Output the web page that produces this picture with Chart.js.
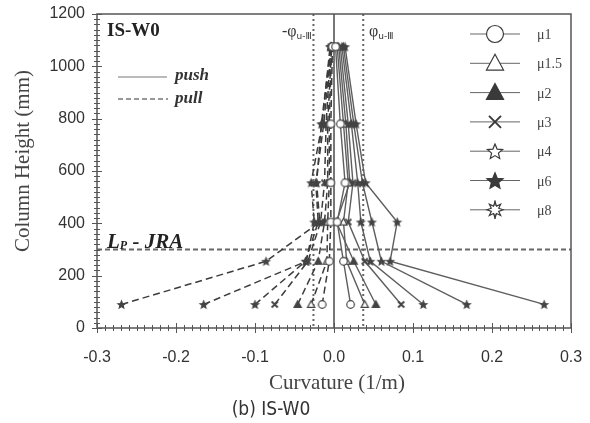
<!DOCTYPE html>
<html>
<head>
<meta charset="utf-8">
<script src="https://cdn.jsdelivr.net/npm/chart.js@4.4.1/dist/chart.umd.min.js"></script>
<style>
  html, body { margin: 0; padding: 0; background: #fff; }
  #wrap { position: relative; width: 590px; height: 423px; }
</style>
</head>
<body>
<div id="wrap"><canvas id="c" width="590" height="423"></canvas></div>
<script>
// measured section heights (mm)
var HEIGHTS = [90, 255, 405, 555, 780, 1075];
var LABELS  = ['μ1', 'μ1.5', 'μ2', 'μ3', 'μ4', 'μ6', 'μ8'];
var MARKERS = ['circle', 'triOpen', 'triFilled', 'cross', 'starOpen', 'starFilled', 'burst'];

// curvature (1/m), push side
var pushMu1  = [0.021, 0.012, 0.004, 0.014, 0.008, 0.002];
var pushMu15 = [0.039, 0.016, 0.012, 0.018, 0.012, 0.004];
var pushMu2  = [0.053, 0.025, 0.003, 0.020, 0.015, 0.006];
var pushMu3  = [0.085, 0.039, 0.018, 0.024, 0.018, 0.008];
var pushMu4  = [0.113, 0.046, 0.034, 0.030, 0.022, 0.010];
var pushMu6  = [0.168, 0.060, 0.048, 0.036, 0.025, 0.012];
var pushMu8  = [0.266, 0.071, 0.080, 0.040, 0.028, 0.014];

// curvature (1/m), pull side
var pullMu1  = [-0.015, -0.006, -0.004, -0.004, -0.004, -0.002];
var pullMu15 = [-0.029, -0.009, -0.008, -0.006, -0.006, -0.003];
var pullMu2  = [-0.046, -0.020, -0.012, -0.008, -0.008, -0.003];
var pullMu3  = [-0.075, -0.033, -0.017, -0.012, -0.010, -0.004];
var pullMu4  = [-0.100, -0.036, -0.020, -0.023, -0.013, -0.004];
var pullMu6  = [-0.165, -0.035, -0.025, -0.029, -0.015, -0.005];
var pullMu8  = [-0.269, -0.086, -0.018, -0.022, -0.016, -0.004];

var PUSH = [pushMu1, pushMu15, pushMu2, pushMu3, pushMu4, pushMu6, pushMu8];
var PULL = [pullMu1, pullMu15, pullMu2, pullMu3, pullMu4, pullMu6, pullMu8];

// reference lines
var PHI_NEG = -0.026;
var PHI_POS = 0.037;
var LP_JRA = 300;

var X_TICKS = [-0.3, -0.2, -0.1, 0.0, 0.1, 0.2, 0.3];
var Y_TICKS = [0, 200, 400, 600, 800, 1000, 1200];

var INK = '#333';

function starPath(ctx, x, y, n, ro, ri) {
  ctx.beginPath();
  for (var i = 0; i < n * 2; i++) {
    var a = -Math.PI / 2 + i * Math.PI / n;
    var rr = i % 2 ? ri : ro;
    var px = x + rr * Math.cos(a), py = y + rr * Math.sin(a);
    if (i) ctx.lineTo(px, py); else ctx.moveTo(px, py);
  }
  ctx.closePath();
}

function drawMarker(ctx, kind, x, y, r, color, lw) {
  ctx.save();
  ctx.strokeStyle = color;
  ctx.fillStyle = color;
  ctx.lineWidth = lw;
  ctx.setLineDash([]);
  if (kind === 'circle') {
    ctx.beginPath(); ctx.arc(x, y, r, 0, Math.PI * 2);
    ctx.fillStyle = '#fff'; ctx.fill(); ctx.stroke();
  } else if (kind === 'triOpen' || kind === 'triFilled') {
    ctx.beginPath();
    ctx.moveTo(x, y - r);
    ctx.lineTo(x + r * 0.95, y + r * 0.75);
    ctx.lineTo(x - r * 0.95, y + r * 0.75);
    ctx.closePath();
    if (kind === 'triOpen') ctx.fillStyle = '#fff';
    ctx.fill(); ctx.stroke();
  } else if (kind === 'cross') {
    ctx.lineWidth = lw * 1.6;
    ctx.beginPath();
    ctx.moveTo(x - r * 0.8, y - r * 0.8); ctx.lineTo(x + r * 0.8, y + r * 0.8);
    ctx.moveTo(x + r * 0.8, y - r * 0.8); ctx.lineTo(x - r * 0.8, y + r * 0.8);
    ctx.stroke();
  } else if (kind === 'starOpen' || kind === 'starFilled') {
    starPath(ctx, x, y + r * 0.1, 5, r, r * 0.45);
    if (kind === 'starOpen') ctx.fillStyle = '#fff';
    ctx.fill(); ctx.stroke();
  } else if (kind === 'burst') {
    starPath(ctx, x, y, 8, r, r * 0.5);
    ctx.fillStyle = '#fff'; ctx.fill(); ctx.stroke();
    ctx.beginPath();
    ctx.moveTo(x, y - r * 1.15); ctx.lineTo(x, y - r * 0.5);
    ctx.moveTo(x, y + r * 1.15); ctx.lineTo(x, y + r * 0.5);
    ctx.stroke();
  }
  ctx.restore();
}

function markerCanvas(kind, r, color) {
  var s = Math.ceil(2 * r + 5);
  var c = document.createElement('canvas');
  c.width = s; c.height = s;
  // small plot markers for μ4 / μ8 read as solid blobs in the scan
  kind = { starOpen: 'starFilled', burst: 'starFilled' }[kind] || kind;
  drawMarker(c.getContext('2d'), kind, s / 2, s / 2, r, color, 1.2);
  return c;
}

function series(vals) {
  return HEIGHTS.map(function (h, k) { return { x: vals[k], y: h }; });
}

var datasets = [];
for (var i = 0; i < LABELS.length; i++) {
  datasets.push({
    label: LABELS[i] + ' push',
    data: series(PUSH[i]),
    showLine: true,
    borderColor: '#5e5e5e',
    borderWidth: 1.4,
    pointStyle: markerCanvas(MARKERS[i], 3.8, '#444'),
    pointRadius: 4,
    fill: false
  });
  datasets.push({
    label: LABELS[i] + ' pull',
    data: series(PULL[i]),
    showLine: true,
    borderColor: '#3c3c3c',
    borderWidth: 1.5,
    borderDash: [7, 4],
    pointStyle: markerCanvas(MARKERS[i], 3.8, '#444'),
    pointRadius: 4,
    fill: false
  });
}

function text(ctx, s, x, y, font, align, color) {
  ctx.font = font;
  ctx.textAlign = align || 'left';
  ctx.textBaseline = 'alphabetic';
  ctx.fillStyle = color || INK;
  ctx.fillText(s, x, y);
  return ctx.measureText(s).width;
}

var refLines = {
  id: 'refLines',
  beforeDatasetsDraw: function (chart) {
    var ctx = chart.ctx, a = chart.chartArea;
    var xs = chart.scales.x, ys = chart.scales.y;
    ctx.save();
    ctx.strokeStyle = '#666';
    ctx.lineWidth = 2;
    ctx.setLineDash([2, 3]);
    [PHI_NEG, PHI_POS].forEach(function (v) {
      var px = xs.getPixelForValue(v);
      ctx.beginPath(); ctx.moveTo(px, a.top); ctx.lineTo(px, a.bottom); ctx.stroke();
    });
    ctx.setLineDash([5, 3]);
    var py = ys.getPixelForValue(LP_JRA);
    ctx.beginPath(); ctx.moveTo(a.left, py); ctx.lineTo(a.right, py); ctx.stroke();
    ctx.setLineDash([]);
    ctx.strokeStyle = '#777';
    var z = xs.getPixelForValue(0);
    ctx.beginPath(); ctx.moveTo(z, a.top); ctx.lineTo(z, a.bottom); ctx.stroke();
    ctx.restore();
  },
  afterDraw: function (chart) {
    var ctx = chart.ctx, a = chart.chartArea;
    var xs = chart.scales.x, ys = chart.scales.y;
    ctx.save();

    // frame
    ctx.strokeStyle = '#555';
    ctx.lineWidth = 1.5;
    ctx.strokeRect(a.left, a.top, a.right - a.left, a.bottom - a.top);

    // minor / major ticks crossing the axes
    ctx.lineWidth = 1;
    ctx.strokeStyle = '#555';
    for (var m = -30; m <= 30; m++) {
      var px = Math.round(xs.getPixelForValue(m / 100)) + 0.5;
      var big = m % 10 === 0;
      ctx.beginPath();
      ctx.moveTo(px, a.bottom - (big ? 5 : 3));
      ctx.lineTo(px, a.bottom + (big ? 5 : 3));
      ctx.stroke();
    }
    for (var n = 0; n <= 60; n++) {
      var py = Math.round(ys.getPixelForValue(n * 20)) + 0.5;
      var bigY = n % 10 === 0;
      ctx.beginPath();
      ctx.moveTo(a.left - (bigY ? 5 : 3), py);
      ctx.lineTo(a.left + (bigY ? 5 : 3), py);
      ctx.stroke();
    }

    // axis titles and caption
    text(ctx, 'Curvature (1/m)', 337, 389, '21px "Liberation Serif", serif', 'center', '#444');
    text(ctx, '(b) IS-W0', 271, 415, '19px "DejaVu Sans Condensed", "DejaVu Sans", sans-serif', 'center', '#333');
    ctx.save();
    ctx.translate(29, 161);
    ctx.rotate(-Math.PI / 2);
    text(ctx, 'Column Height (mm)', 0, 0, '21px "Liberation Serif", serif', 'center', '#444');
    ctx.restore();

    // in-plot annotations
    text(ctx, 'IS-W0', 107, 36, 'bold 19px "Liberation Serif", serif', 'left', '#222');

    ctx.strokeStyle = '#777';
    ctx.lineWidth = 1.2;
    ctx.beginPath(); ctx.moveTo(118, 77); ctx.lineTo(167, 77); ctx.stroke();
    ctx.setLineDash([5, 3]);
    ctx.strokeStyle = '#333';
    ctx.beginPath(); ctx.moveTo(118, 99); ctx.lineTo(168, 99); ctx.stroke();
    ctx.setLineDash([]);
    text(ctx, 'push', 175, 80, 'italic bold 17px "Liberation Serif", serif', 'left', '#333');
    text(ctx, 'pull', 175, 103, 'italic bold 17px "Liberation Serif", serif', 'left', '#333');

    var w = text(ctx, '-φ', 282, 36, '16px "Liberation Serif", serif', 'left', '#333');
    text(ctx, 'u-Ⅲ', 282 + w, 39, '9px "DejaVu Sans", sans-serif', 'left', '#333');
    w = text(ctx, 'φ', 369, 36, '16px "Liberation Serif", serif', 'left', '#333');
    text(ctx, 'u-Ⅲ', 369 + w, 39, '9px "DejaVu Sans", sans-serif', 'left', '#333');

    w = text(ctx, 'L', 107, 248, 'italic bold 21px "Liberation Serif", serif', 'left', '#222');
    var w2 = text(ctx, 'P', 107 + w, 249, 'italic bold 12px "Liberation Serif", serif', 'left', '#222');
    text(ctx, ' - JRA', 107 + w + w2, 248, 'italic bold 21px "Liberation Serif", serif', 'left', '#222');

    // legend
    var sizes = [8.5, 9, 9, 7.5, 8, 8.5, 8];
    for (var i = 0; i < LABELS.length; i++) {
      var ly = 34 + i * 29.3;
      ctx.strokeStyle = '#666';
      ctx.lineWidth = 1;
      ctx.beginPath(); ctx.moveTo(470, ly); ctx.lineTo(520, ly); ctx.stroke();
      drawMarker(ctx, MARKERS[i], 495, ly, sizes[i], '#3a3a3a', 1.2);
      text(ctx, LABELS[i], 537, ly + 5, '14px "Liberation Serif", serif', 'left', '#444');
    }
    ctx.restore();
  }
};

new Chart(document.getElementById('c'), {
  type: 'scatter',
  data: { datasets: datasets },
  options: {
    responsive: false,
    animation: false,
    layout: { padding: { top: 14, right: 19, left: 0, bottom: 0 } },
    plugins: { legend: { display: false }, tooltip: { enabled: false } },
    scales: {
      x: {
        type: 'linear', min: -0.3, max: 0.3,
        afterBuildTicks: function (s) { s.ticks = X_TICKS.map(function (v) { return { value: v }; }); },
        afterFit: function (s) { s.height = 95; s.paddingLeft = 0; s.paddingRight = 0; },
        grid: { display: false, drawTicks: false },
        border: { display: false },
        ticks: {
          padding: 20, color: '#333', maxRotation: 0, autoSkip: false,
          font: { family: '"Liberation Sans", Arial, sans-serif', size: 16 },
          callback: function (v) { return v.toFixed(1); }
        }
      },
      y: {
        type: 'linear', min: 0, max: 1200,
        afterBuildTicks: function (s) { s.ticks = Y_TICKS.map(function (v) { return { value: v }; }); },
        afterFit: function (s) { s.width = 97; s.paddingTop = 0; s.paddingBottom = 0; },
        grid: { display: false, drawTicks: false },
        border: { display: false },
        ticks: {
          padding: 12, color: '#333', autoSkip: false,
          font: { family: '"Liberation Sans", Arial, sans-serif', size: 16 },
          callback: function (v) { return String(v); }
        }
      }
    }
  },
  plugins: [refLines]
});
</script>
</body>
</html>
